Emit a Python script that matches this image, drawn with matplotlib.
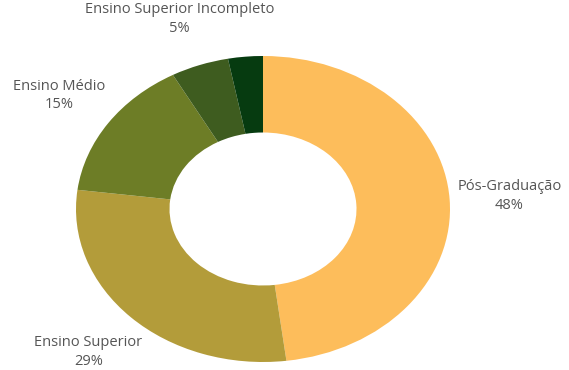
import numpy as np
import matplotlib.pyplot as plt

labels = ["Pós-Graduação", "Ensino Superior", "Ensino Médio", "Ensino Superior Incompleto", ""]
values = [48, 29, 15, 5, 3]
colors = ["#FDBD5B", "#B39C3A", "#6D7D26", "#3E5C1F", "#063B10"]

plt.rcParams['font.family'] = ['Open Sans', 'DejaVu Sans']

fig = plt.figure(figsize=(5.69, 3.70), dpi=100)
# stretched donut, as in the original
ax = fig.add_axes([76 / 569, 8 / 370, 374 / 569, 306 / 370])

wedges, _ = ax.pie(values, colors=colors, startangle=90, counterclock=False,
                   radius=1, wedgeprops=dict(width=0.5, linewidth=0))
ax.set_aspect('auto')
ax.set_xlim(-1, 1)
ax.set_ylim(-1, 1)
ax.axis('off')

total = sum(values)
start = 90
for lab, v in zip(labels, values):
    mid = np.deg2rad(start - v / total * 360 / 2)
    start -= v / total * 360
    if not lab:
        continue
    r = 1.32
    ax.text(r * np.cos(mid), r * np.sin(mid), f"{lab}\n{v}%", ha='center', va='center',
            fontsize=10.5, color='#555555', linespacing=1.35, clip_on=False)

fig.savefig("out.png", dpi=100)
